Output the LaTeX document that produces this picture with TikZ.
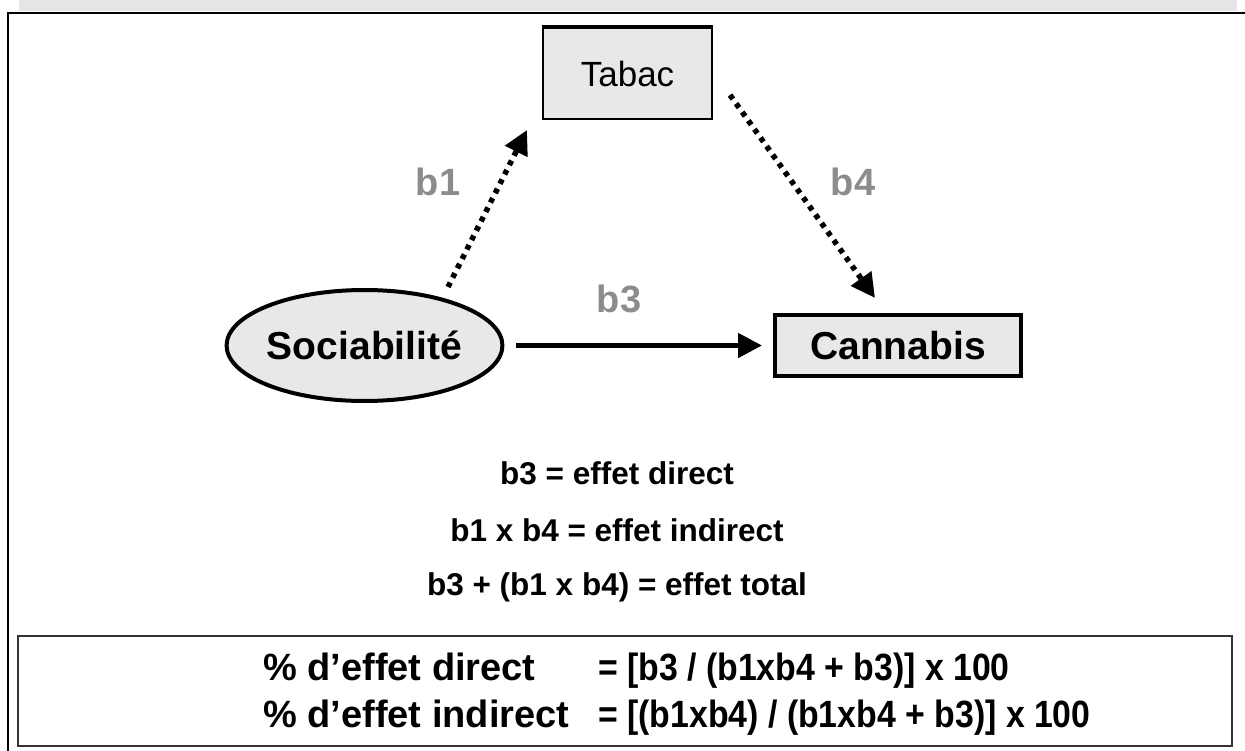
\documentclass[tikz,border=0pt]{standalone}
\usepackage{fontspec}
\setmainfont{Liberation Sans}
\usetikzlibrary{arrows.meta,positioning,shapes.geometric}

\definecolor{boxgray}{RGB}{232,232,232}
\definecolor{lblgray}{RGB}{140,140,140}

\begin{document}
\begin{tikzpicture}[x=1pt,y=-1pt,node distance=57pt,on grid,
        >={Triangle[length=24pt,width=24pt]},
        var/.style={draw,line width=4pt,fill=boxgray,inner sep=0pt,
            font=\fontsize{39}{47}\selectfont\bfseries},
        mediator/.style={draw,line width=2pt,fill=boxgray,inner sep=0pt,
            minimum width=169pt,minimum height=91pt,
            font=\fontsize{35}{42}\selectfont},
        coef/.style={text=lblgray,font=\fontsize{38}{46}\selectfont\bfseries},
        eq/.style={font=\fontsize{31.5}{37}\selectfont\bfseries},
        pct/.style={anchor=base west,inner sep=0pt,
            font=\fontsize{38}{45}\selectfont\bfseries},
        direct/.style={->,line width=5pt},
        indirect/.style={->,line width=5.5pt,dash pattern=on 5pt off 5.5pt}]
                        \useasboundingbox (0,0) rectangle (1245,751);

                        % page frame
                        \fill[black!10] (19,0) rectangle (1237,11);
                        \draw[line width=2.5pt] (8,751) -- (8,13) -- (1245,13);

                        \node[mediator]                       (tabac)    at (627.5,73.5)  {Tabac};
                        \node[var,ellipse,minimum width=273pt,
                              minimum height=111pt]           (socia)    at (364.5,345.5) {Sociabilité};
                        \node[var,minimum width=246pt,
                              minimum height=61pt]            (cannabis) at (898,345.5)   {Cannabis};
                        \draw[line width=3pt] (tabac.north west) -- (tabac.north east);

                        \coordinate (b1 start) at (448,287);
                        \coordinate (b1 tip)   at (527,130);
                        \coordinate (b4 start) at (730,95);
                        \coordinate (b4 tip)   at (875,298);

                        \draw[indirect] (b1 start) -- (b1 tip);
                        \draw[indirect] (b4 start) -- (b4 tip);
                        \draw[direct,shorten <=12pt,shorten >=11pt] (socia) -- (cannabis);

                        \node[coef] (b1) at (438,182) {b1};
                        \node[coef] (b4) at (853,182) {b4};
                        \node[coef] (b3) at (619,299) {b3};

                        \node[eq] (eq1) at (617,473)    {b3 = effet direct};
                        \node[eq] (eq2) [below=of eq1]  {b1 x b4 = effet indirect};
                        \node[eq] (eq3) [below=of eq2]  {b3 + (b1 x b4) = effet total};

                        % % box
                        \node[draw,line width=2pt,draw=black!80,minimum width=1214pt,
                              minimum height=110pt] (pctbox) at (625,691) {};
                        \node[pct] (pct1) at (263,680)
                            {\makebox[335pt][l]{\% d’effet direct}\scalebox{0.89}[1]{= [b3 / (b1xb4 + b3)] x 100}};
                        \node[pct] (pct2) at (263,727)
                            {\makebox[335pt][l]{\% d’effet indirect}\scalebox{0.89}[1]{= [(b1xb4) / (b1xb4 + b3)] x 100}};
                    \end{tikzpicture}
\end{document}
